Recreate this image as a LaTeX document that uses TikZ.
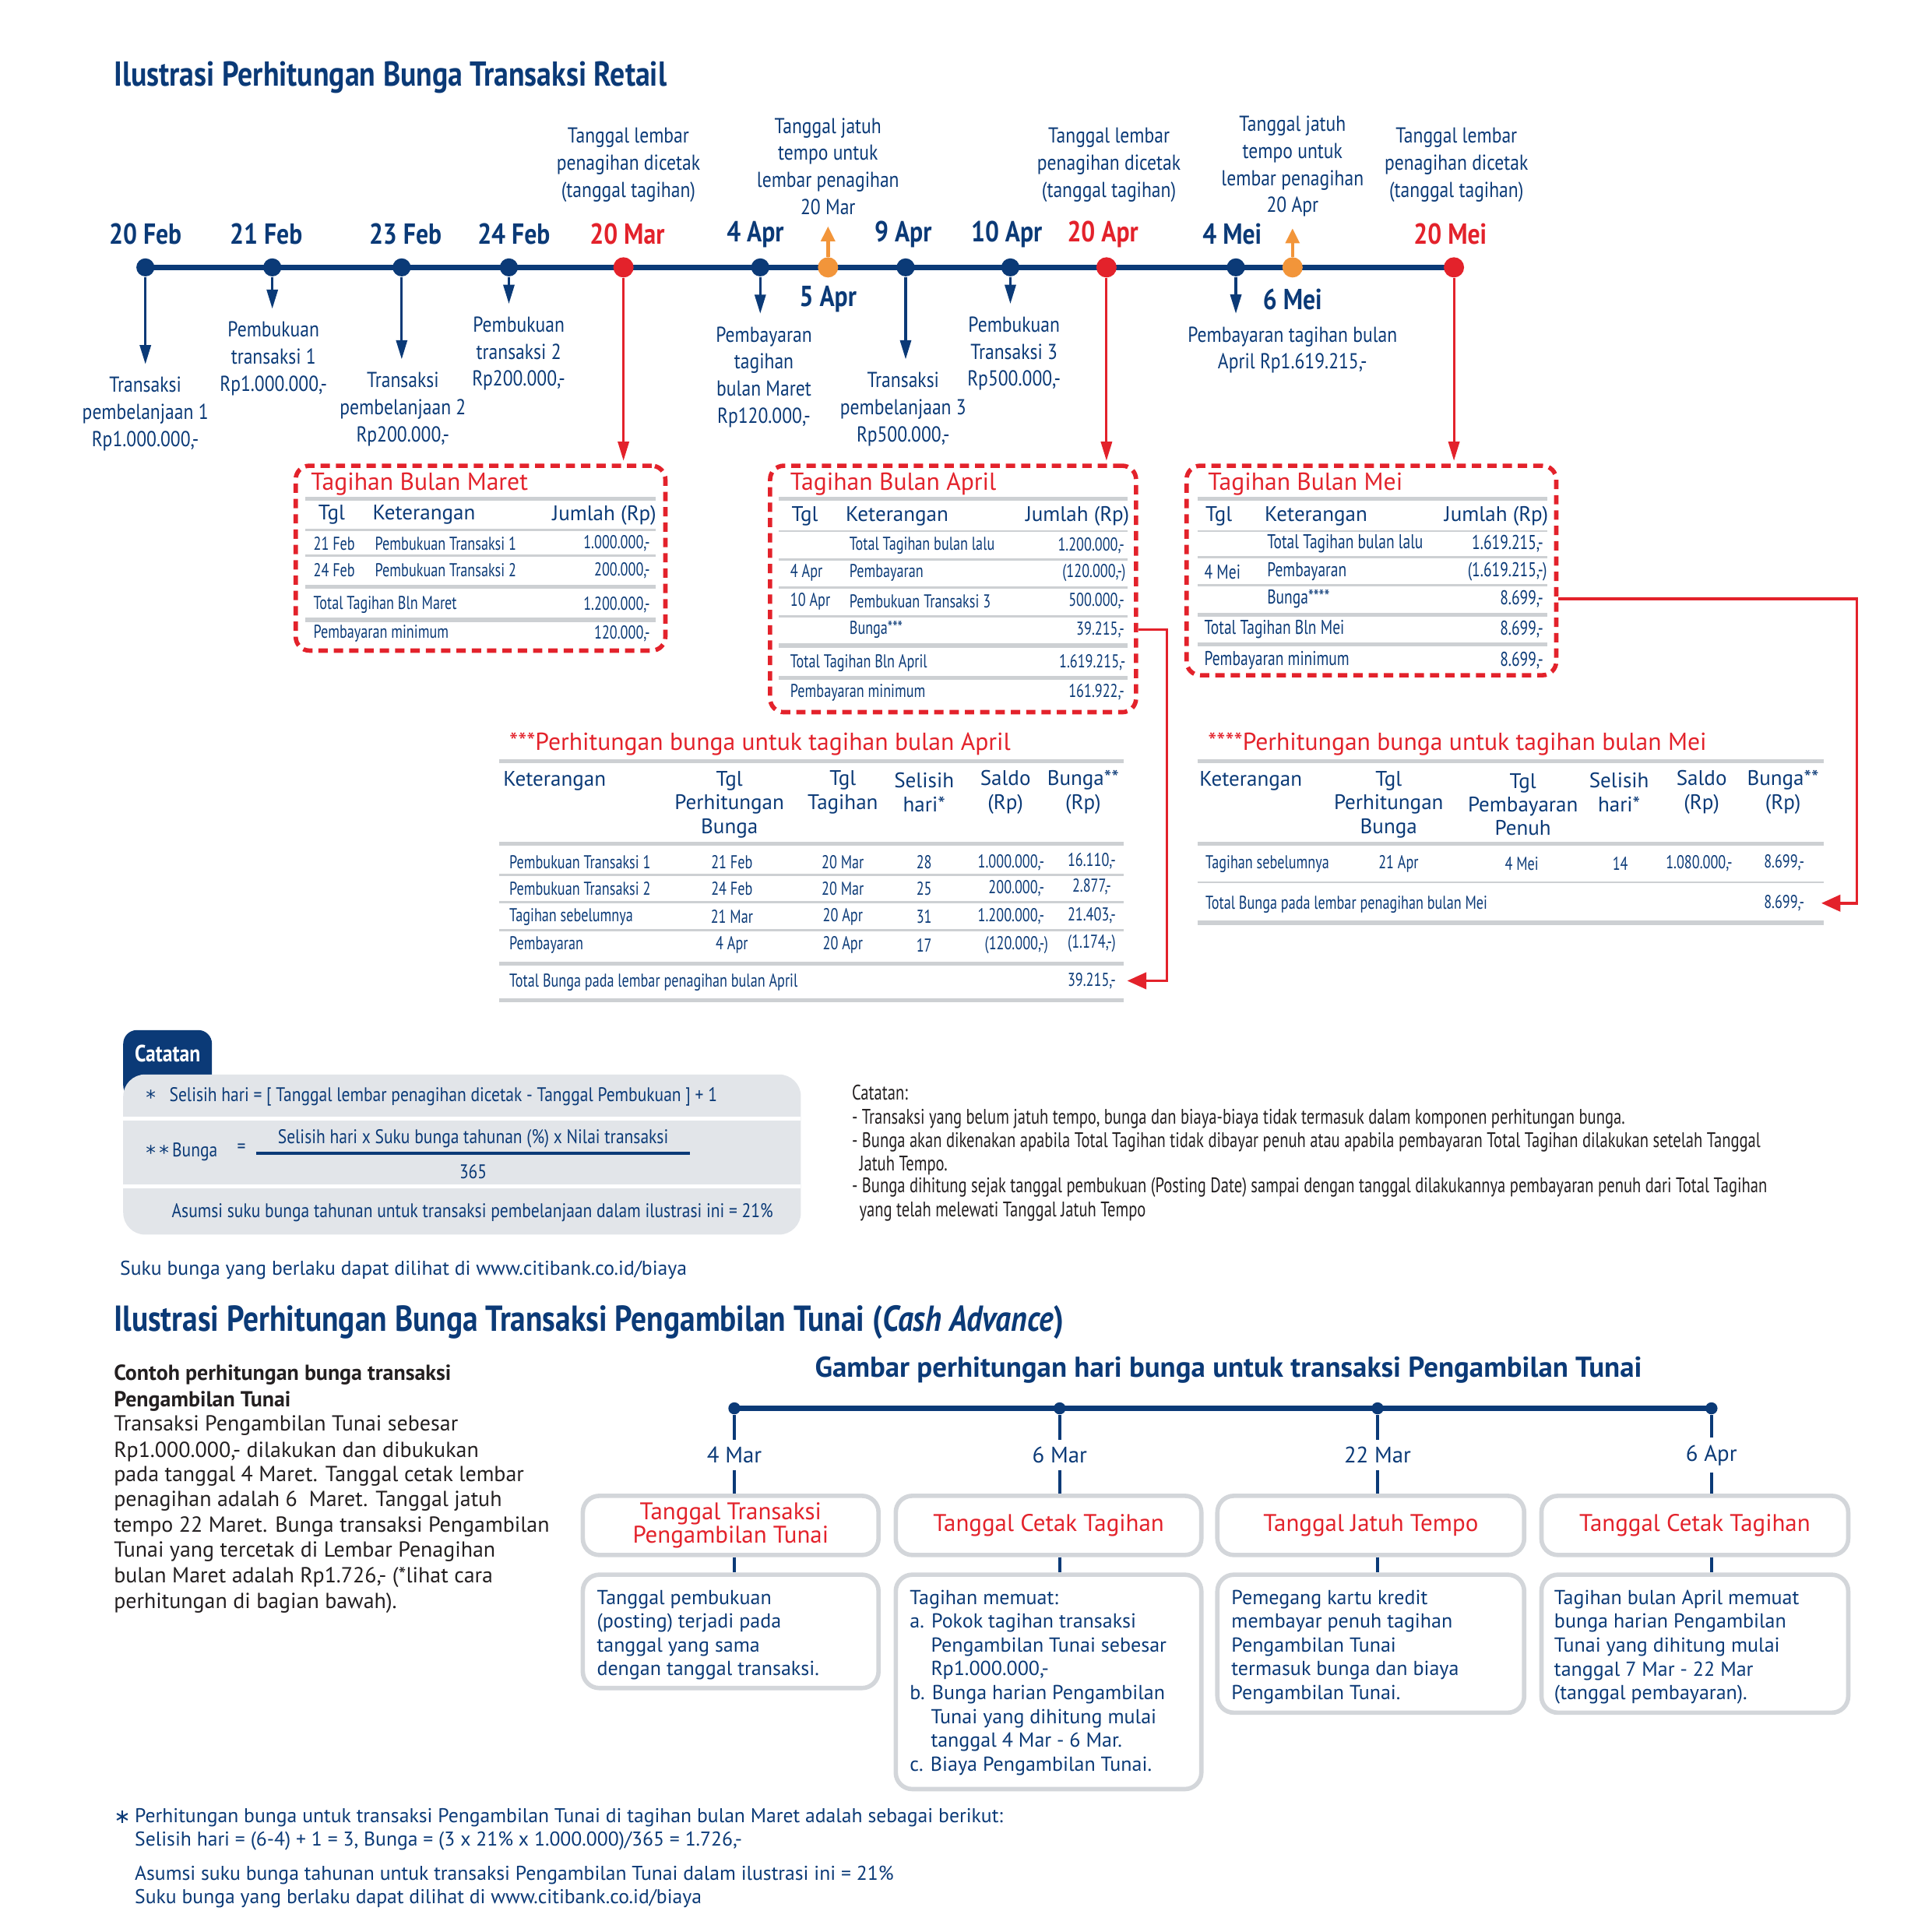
\documentclass[tikz,border=0pt]{standalone}
\usepackage{fontspec}
\setmainfont{PT Sans}
\newfontfamily\cf{PT Sans}[FakeStretch=0.85]
\newfontfamily\ccf{PT Sans}[FakeStretch=0.76]
\newfontfamily\dvs{DejaVu Sans}
\usetikzlibrary{arrows.meta,fit}
\definecolor{navy}{HTML}{0B3A77}
\definecolor{cred}{HTML}{E3222B}
\definecolor{corange}{HTML}{F2953A}
\definecolor{lgray}{HTML}{CDD0D3}
\definecolor{bgray}{HTML}{E2E5E9}
\definecolor{bxgray}{HTML}{D3D6DA}
\definecolor{ink}{HTML}{231F20}
\newcommand\myfs[2]{\fontsize{#1}{#2}\selectfont}
\newcommand\lowast{{\dvs\raisebox{-0.3ex}{*}}}
\begin{document}
\begin{tikzpicture}[x=0.15823mm,y=-0.15823mm,
 tl/.style={font=\cf\myfs{7.9}{9.9},text=navy,align=center,inner sep=0pt},
 dt/.style={font=\cf\bfseries\myfs{10.6}{12},text=navy,inner sep=0pt},
 dtr/.style={dt,text=cred},
 dotb/.style={circle,fill=navy,inner sep=0pt,minimum size=6.6pt},
 dotr/.style={circle,fill=cred,inner sep=0pt,minimum size=7.4pt},
 doto/.style={circle,fill=corange,inner sep=0pt,minimum size=7.4pt},
 barrow/.style={navy,line width=0.9pt,-{Triangle[length=7pt,width=4pt]},shorten >=4.5pt},
 rarrow/.style={cred,line width=0.9pt,-{Triangle[length=7pt,width=4pt]},shorten >=1pt},
 oarrow/.style={corange,line width=1.3pt,-{Triangle[length=5.5pt,width=5pt]},shorten >=4pt},
 rline/.style={cred,line width=1.1pt,-{Triangle[length=7pt,width=6pt]}},
 dbox/.style={draw=cred,line width=1.6pt,dash pattern=on 3.4pt off 2.2pt,rounded corners=5pt,inner sep=0pt},
 btit/.style={font=\myfs{9}{10},text=cred,inner sep=0pt,anchor=west},
 bh/.style={font=\myfs{7.7}{8.6},text=navy,inner sep=0pt},
 br/.style={font=\ccf\myfs{6.8}{8},text=navy,inner sep=0pt},
 brm/.style={font=\ccf\myfs{7.3}{8},text=navy,inner sep=0pt},
 gln/.style={lgray,line width=0.8pt},
 glk/.style={lgray,line width=1.5pt},
 ttl/.style={font=\cf\bfseries\myfs{12.65}{15},text=navy,inner sep=0pt,anchor=west},
 ct/.style={font=\cf\myfs{7.2}{9},text=navy,inner sep=0pt},
 nt/.style={font=\ccf\myfs{7.7}{9},text=ink,inner sep=0pt,anchor=west},
 cp/.style={font=\myfs{7.95}{9.2},text=ink,inner sep=0pt,anchor=west},
 cdot/.style={circle,fill=navy,inner sep=0pt,minimum size=4.4pt},
 cstub/.style={navy,line width=1.2pt},
 cdl/.style={font=\myfs{8.2}{10},text=navy,inner sep=2.4pt},
 cbx/.style={draw=bxgray,line width=1.6pt,rounded corners=6pt,fill=white,inner sep=0pt},
 cht/.style={font=\myfs{8.8}{8.6},text=cred,align=center,inner sep=0pt},
 cbt/.style={font=\myfs{7.4}{8.7},text=navy,align=left,inner sep=0pt,anchor=north west},
 bn/.style={font=\myfs{7.3}{8.6},text=navy,inner sep=0pt,anchor=west}
]
\useasboundingbox (0,0) rectangle (1568,1568);

% ---------- Title ----------
\node[ttl] (title1) at (92,63) {Ilustrasi Perhitungan Bunga Transaksi Retail};

% ---------- Timeline ----------
\draw[navy,line width=1.8pt] (118,217) -- (1180,217);
\node[dotb] (d1) at (118,217) {};
\node[dotb] (d2) at (221,217) {};
\node[dotb] (d3) at (326,217) {};
\node[dotb] (d4) at (413,217) {};
\node[dotr] (r1) at (506,217) {};
\node[dotb] (d5) at (617,217) {};
\node[doto] (o1) at (672,217) {};
\node[dotb] (d6) at (735,217) {};
\node[dotb] (d7) at (820,217) {};
\node[dotr] (r2) at (898,217) {};
\node[dotb] (d8) at (1003,217) {};
\node[doto] (o2) at (1049,217) {};
\node[dotr] (r3) at (1180,217) {};

% date labels
\node[dt] (t1) at (118,190) {20 Feb};
\node[dt] (t2) at (216,190) {21 Feb};
\node[dt] (t3) at (329,190) {23 Feb};
\node[dt] (t4) at (417,190) {24 Feb};
\node[dtr] (t5) at (509,190) {20 Mar};
\node[dt] (t6) at (613,190) {4 Apr};
\node[dt] (t7) at (733,190) {9 Apr};
\node[dt] (t8) at (817,190) {10 Apr};
\node[dtr] (t9) at (895,190) {20 Apr};
\node[dt] (t10) at (1000,190) {4 Mei};
\node[dtr] (t11) at (1177,190) {20 Mei};
\node[dt] (t12) at (672,243) {5 Apr};
\node[dt] (t13) at (1049,243) {6 Mei};

% labels above
\node[tl] (up1) at (510,134) {Tanggal lembar\\penagihan dicetak\\(tanggal tagihan)};
\node[tl] (up2) at (672,135) {Tanggal jatuh\\tempo untuk\\lembar penagihan\\20 Mar};
\node[tl] (up3) at (900,134) {Tanggal lembar\\penagihan dicetak\\(tanggal tagihan)};
\node[tl] (up4) at (1049,135) {Tanggal jatuh\\tempo untuk\\lembar penagihan\\20 Apr};
\node[tl] (up5) at (1182,134) {Tanggal lembar\\penagihan dicetak\\(tanggal tagihan)};
\draw[oarrow] (o1) -- (o1 |- up2.south);
\draw[oarrow] (o2) -- (o2 |- up4.south);

% labels below
\node[tl] (l1) at (118,336) {Transaksi\\pembelanjaan 1\\Rp1.000.000,-};
\node[tl] (l2) at (222,291) {Pembukuan\\transaksi 1\\Rp1.000.000,-};
\node[tl] (l3) at (327,332) {Transaksi\\pembelanjaan 2\\Rp200.000,-};
\node[tl] (l4) at (421,287) {Pembukuan\\transaksi 2\\Rp200.000,-};
\node[tl] (l5) at (620,306) {Pembayaran\\tagihan\\bulan Maret\\Rp120.000,-};
\node[tl] (l6) at (733,332) {Transaksi\\pembelanjaan 3\\Rp500.000,-};
\node[tl] (l7) at (823,287) {Pembukuan\\Transaksi 3\\Rp500.000,-};
\node[tl] (l8) at (1049,284) {Pembayaran tagihan bulan\\April Rp1.619.215,-};
\draw[barrow] (d1) -- (d1 |- l1.north);
\draw[barrow] (d2) -- (d2 |- l2.north);
\draw[barrow] (d3) -- (d3 |- l3.north);
\draw[barrow] (d4) -- (d4 |- l4.north);
\draw[barrow] (d5) -- (d5 |- l5.north);
\draw[barrow] (d6) -- (d6 |- l6.north);
\draw[barrow] (d7) -- (d7 |- l7.north);
\draw[barrow] (d8) -- (d8 |- l8.north);

% ---------- Dashed boxes ----------
\node[dbox,fit={(240,378) (540,528)}] (boxM) {};
\node[dbox,fit={(625,378) (922,578)}] (boxA) {};
\node[dbox,fit={(963,378) (1263,548)}] (boxMe) {};
\draw[rarrow] (r1) -- (r1 |- boxM.north);
\draw[rarrow] (r2) -- (r2 |- boxA.north);
\draw[rarrow] (r3) -- (r3 |- boxMe.north);

% Maret
\node[btit] (tM) at (252,393) {Tagihan Bulan Maret};
\draw[glk] (248,405) -- (532,405);
\node[bh,anchor=west] at (258,418) {Tgl};
\node[bh,anchor=west] at (302,418) {Keterangan};
\node[bh,anchor=east] at (533,418) {Jumlah (Rp)};
\draw[gln] (248,430) -- (532,430);
\node[br,anchor=west] at (254,441) {21 Feb};
\node[br,anchor=west] at (304,441) {Pembukuan Transaksi 1};
\node[br,anchor=east] at (528,441) {1.000.000,-};
\draw[gln] (248,451) -- (532,451);
\node[br,anchor=west] at (254,463) {24 Feb};
\node[br,anchor=west] at (304,463) {Pembukuan Transaksi 2};
\node[br,anchor=east] at (528,463) {200.000,-};
\draw[glk] (248,476) -- (532,476);
\node[br,anchor=west] at (254,491) {Total Tagihan Bln Maret};
\node[br,anchor=east] at (528,491) {1.200.000,-};
\draw[glk] (248,503) -- (532,503);
\node[br,anchor=west] at (254,514) {Pembayaran minimum};
\node[br,anchor=east] at (528,514) {120.000,-};

% April
\node[btit] (tA) at (641,393) {Tagihan Bulan April};
\draw[glk] (632,405) -- (915,405);
\node[bh,anchor=west] at (642,419) {Tgl};
\node[bh,anchor=west] at (686,419) {Keterangan};
\node[bh,anchor=east] at (917,419) {Jumlah (Rp)};
\draw[gln] (632,431) -- (915,431);
\node[br,anchor=west] at (689,443) {Total Tagihan bulan lalu};
\node[br,anchor=east] at (913,443) {1.200.000,-};
\draw[gln] (632,454) -- (915,454);
\node[br,anchor=west] at (641,465) {4 Apr};
\node[br,anchor=west] at (689,465) {Pembayaran};
\node[br,anchor=east] at (914,465) {(120.000,-)};
\draw[gln] (632,477) -- (915,477);
\node[br,anchor=west] at (641,488) {10 Apr};
\node[br,anchor=west] at (689,488) {Pembukuan Transaksi 3};
\node[br,anchor=east] at (913,488) {500.000,-};
\draw[gln] (632,500) -- (915,500);
\node[br,anchor=west] at (689,511) {Bunga***};
\node[br,anchor=east] (vBA) at (913,511) {39.215,-};
\draw[glk] (632,524) -- (915,524);
\node[br,anchor=west] at (641,538) {Total Tagihan Bln April};
\node[br,anchor=east] at (914,538) {1.619.215,-};
\draw[glk] (632,550) -- (915,550);
\node[br,anchor=west] at (641,562) {Pembayaran minimum};
\node[br,anchor=east] at (913,562) {161.922,-};

% Mei
\node[btit] (tMe) at (980,393) {Tagihan Bulan Mei};
\draw[glk] (972,405) -- (1256,405);
\node[bh,anchor=west] at (978,419) {Tgl};
\node[bh,anchor=west] at (1026,419) {Keterangan};
\node[bh,anchor=east] at (1257,419) {Jumlah (Rp)};
\draw[gln] (972,431) -- (1256,431);
\node[brm,anchor=west] at (1028,441) {Total Tagihan bulan lalu};
\node[brm,anchor=east] at (1253,441) {1.619.215,-};
\draw[gln] (972,452) -- (1256,452);
\node[brm,anchor=west] at (977,464) {4 Mei};
\node[brm,anchor=west] at (1028,464) {Pembayaran};
\node[brm,anchor=east] at (1256,464) {(1.619.215,-)};
\draw[gln] (972,475) -- (1256,475);
\node[brm,anchor=west] at (1028,486) {Bunga****};
\node[brm,anchor=east] (vBMe) at (1253,486) {8.699,-};
\draw[glk] (972,499) -- (1256,499);
\node[brm,anchor=west] at (977,511) {Total Tagihan Bln Mei};
\node[brm,anchor=east] at (1253,511) {8.699,-};
\draw[glk] (972,523) -- (1256,523);
\node[brm,anchor=west] at (977,536) {Pembayaran minimum};
\node[brm,anchor=east] at (1253,536) {8.699,-};

% ---------- Calc table April ----------
\node[btit] at (413,604) {***Perhitungan bunga untuk tagihan bulan April};
\draw[glk] (405,618) -- (912,618);
\node[bh,anchor=west] at (408,634) {Keterangan};
\node[bh,align=center] at (592,653) {Tgl\\Perhitungan\\Bunga};
\node[bh,align=center] at (684,643) {Tgl\\Tagihan};
\node[bh,align=center] at (750,643) {Selisih\\hari*};
\node[bh,align=center] at (816,643) {Saldo\\(Rp)};
\node[bh,align=center] at (879,643) {Bunga**\\(Rp)};
\draw[glk] (405,685) -- (912,685);
\node[br,anchor=west] at (413,700) {Pembukuan Transaksi 1};
\node[br] at (594,700) {21 Feb};
\node[br] at (684,700) {20 Mar};
\node[br] at (750,700) {28};
\node[br,anchor=east] at (848,700) {1.000.000,-};
\node[br] at (886,699) {16.110,-};
\draw[gln] (405,710) -- (912,710);
\node[br,anchor=west] at (413,721) {Pembukuan Transaksi 2};
\node[br] at (594,721) {24 Feb};
\node[br] at (684,721) {20 Mar};
\node[br] at (750,721) {25};
\node[br,anchor=east] at (848,721) {200.000,-};
\node[br] at (886,720) {2.877,-};
\draw[gln] (405,732) -- (912,732);
\node[br,anchor=west] at (413,744) {Tagihan sebelumnya};
\node[br] at (594,744) {21 Mar};
\node[br] at (684,744) {20 Apr};
\node[br] at (750,744) {31};
\node[br,anchor=east] at (848,744) {1.200.000,-};
\node[br] at (886,743) {21.403,-};
\draw[gln] (405,755) -- (912,755);
\node[br,anchor=west] at (413,767) {Pembayaran};
\node[br] at (594,767) {4 Apr};
\node[br] at (684,767) {20 Apr};
\node[br] at (750,767) {17};
\node[br,anchor=east] at (851,767) {(120.000,-)};
\node[br] at (886,766) {(1.174,-)};
\draw[glk] (405,782) -- (912,782);
\node[br,anchor=west] at (413,797) {Total Bunga pada lembar penagihan bulan April};
\node[br] (vTA) at (886,796) {39.215,-};
\draw[glk] (405,812) -- (912,812);

% ---------- Calc table Mei ----------
\node[btit] at (980,604) {****Perhitungan bunga untuk tagihan bulan Mei};
\draw[glk] (972,618) -- (1480,618);
\node[bh,anchor=west] at (973,634) {Keterangan};
\node[bh,align=center] at (1127,653) {Tgl\\Perhitungan\\Bunga};
\node[bh,align=center] at (1236,653) {Tgl\\Pembayaran\\Penuh};
\node[bh,align=center] at (1314,643) {Selisih\\hari*};
\node[bh,align=center] at (1381,643) {Saldo\\(Rp)};
\node[bh,align=center] at (1447,643) {Bunga**\\(Rp)};
\draw[glk] (972,685) -- (1480,685);
\node[br,anchor=west] at (978,701) {Tagihan sebelumnya};
\node[br] at (1135,701) {21 Apr};
\node[br] at (1235,701) {4 Mei};
\node[br] at (1315,701) {14};
\node[br] at (1379,701) {1.080.000,-};
\node[br] at (1448,700) {8.699,-};
\draw[gln] (972,716) -- (1480,716);
\node[br,anchor=west] at (978,734) {Total Bunga pada lembar penagihan bulan Mei};
\node[br] (vTMe) at (1448,733) {8.699,-};
\draw[glk] (972,749) -- (1480,749);

% connectors
\coordinate (kA) at (947,796);
\coordinate (kM) at (1507,733);
\draw[rline] (boxA.east |- vBA) -| (kA) -- ([xshift=4pt]vTA.east);
\draw[rline] (boxMe.east |- vBMe) -| (kM) -- ([xshift=6pt]vTMe.east);

% ---------- Catatan ----------
\node[fill=navy,rounded corners=5pt,inner sep=0pt,fit={(100,836) (172,892)}] (tab) {};
\node[font=\cf\bfseries\myfs{8.6}{10},text=white,inner sep=0pt] at (136,855) {Catatan};
\node[fill=bgray,rounded corners=8pt,inner sep=0pt,fit={(100,872) (650,1002)}] (cbox) {};
\draw[white,line width=1.3pt] (100,908) -- (650,908);
\draw[white,line width=1.3pt] (100,963) -- (650,963);
\node[ct,anchor=west] at (118,890) {\lowast\hspace{5pt}Selisih hari = [ Tanggal lembar penagihan dicetak - Tanggal Pembukuan ] + 1};
\node[ct,anchor=west] at (118,935) {\lowast\,\lowast\,Bunga};
\node[ct] at (196,932) {=};
\node[ct] (num) at (384,924) {Selisih hari x Suku bunga tahunan (\%) x Nilai transaksi};
\draw[navy,line width=1.3pt] (208,936) -- (560,936);
\node[ct] (den) at (384,951) {365};
\node[ct,anchor=west] at (139,984) {Asumsi suku bunga tahunan untuk transaksi pembelanjaan dalam ilustrasi ini = 21\%};
\node[font=\myfs{7.3}{9},text=navy,inner sep=0pt,anchor=west] at (97,1031) {Suku bunga yang berlaku dapat dilihat di www.citibank.co.id/biaya};

\node[nt] at (691,887) {Catatan:};
\node[nt] at (691,908) {- Transaksi yang belum jatuh tempo, bunga dan biaya-biaya tidak termasuk dalam komponen perhitungan bunga.};
\node[nt] at (691,927) {- Bunga akan dikenakan apabila Total Tagihan tidak dibayar penuh atau apabila pembayaran Total Tagihan dilakukan setelah Tanggal};
\node[nt] at (697,946) {Jatuh Tempo.};
\node[nt] at (691,964) {- Bunga dihitung sejak tanggal pembukuan (Posting Date) sampai dengan tanggal dilakukannya pembayaran penuh dari Total Tagihan};
\node[nt] at (697,983) {yang telah melewati Tanggal Jatuh Tempo};

% ---------- Cash advance ----------
\node[ttl,font=\cf\bfseries\myfs{13.2}{15}] (title2) at (92,1073) {Ilustrasi Perhitungan Bunga Transaksi Pengambilan Tunai (\textit{Cash Advance})};
\node[cp,font=\bfseries\myfs{7.95}{9.2}] at (92,1116) {Contoh perhitungan bunga transaksi};
\node[cp,font=\bfseries\myfs{7.95}{9.2}] at (92,1137) {Pengambilan Tunai};
\node[cp] at (92,1157) {Transaksi Pengambilan Tunai sebesar};
\node[cp] at (92,1178) {Rp1.000.000,- dilakukan dan dibukukan};
\node[cp] at (92,1198) {pada tanggal 4 Maret. Tanggal cetak lembar};
\node[cp] at (92,1218) {penagihan adalah 6\ \ Maret. Tanggal jatuh};
\node[cp] at (92,1239) {tempo 22 Maret. Bunga transaksi Pengambilan};
\node[cp] at (92,1259) {Tunai yang tercetak di Lembar Penagihan};
\node[cp] at (92,1280) {bulan Maret adalah Rp1.726,- (*lihat cara};
\node[cp] at (92,1301) {perhitungan di bagian bawah).};

\node[font=\bfseries\myfs{10.5}{12},text=navy,inner sep=0pt] (sub) at (997,1112) {Gambar perhitungan hari bunga untuk transaksi Pengambilan Tunai};
\draw[navy,line width=2pt] (596,1143) -- (1389,1143);
\node[cdot] (cp1) at (596,1143) {};
\node[cdot] (cp2) at (860,1143) {};
\node[cdot] (cp3) at (1118,1143) {};
\node[cdot] (cp4) at (1389,1143) {};
\node[cdl] (cd1) at (596,1181) {4 Mar};
\node[cdl] (cd2) at (860,1181) {6 Mar};
\node[cdl] (cd3) at (1118,1181) {22 Mar};
\node[cdl] (cd4) at (1389,1181) {6 Apr};
\node[cbx,fit={(473,1214) (713,1262)}] (ch1) {};
\node[cbx,fit={(727,1214) (975,1262)}] (ch2) {};
\node[cbx,fit={(988,1214) (1237,1262)}] (ch3) {};
\node[cbx,fit={(1251,1214) (1500,1262)}] (ch4) {};
\node[cbx,fit={(473,1278) (713,1370)}] (cb1) {};
\node[cbx,fit={(727,1278) (975,1452)}] (cb2) {};
\node[cbx,fit={(988,1278) (1237,1390)}] (cb3) {};
\node[cbx,fit={(1251,1278) (1500,1390)}] (cb4) {};
\foreach \i in {1,2,3,4}{
  \draw[cstub] (cp\i) -- (cd\i);
  \draw[cstub] (cd\i) -- (cd\i |- ch\i.north);
  \draw[cstub] (cd\i |- ch\i.south) -- (cd\i |- cb\i.north);
}
\node[cht] at (ch1.center) {Tanggal Transaksi\\Pengambilan Tunai};
\node[cht] at (ch2.center) {Tanggal Cetak Tagihan};
\node[cht] at (ch3.center) {Tanggal Jatuh Tempo};
\node[cht] at (ch4.center) {Tanggal Cetak Tagihan};
\node[cbt] at (484,1290) {Tanggal pembukuan\\(posting) terjadi pada\\tanggal yang sama\\dengan tanggal transaksi.};
\node[cbt] at (738,1290) {Tagihan memuat:\\a. Pokok tagihan transaksi\\\hspace*{7.7pt}Pengambilan Tunai sebesar\\\hspace*{7.7pt}Rp1.000.000,-\\b. Bunga harian Pengambilan\\\hspace*{7.7pt}Tunai yang dihitung mulai\\\hspace*{7.7pt}tanggal 4 Mar - 6 Mar.\\c. Biaya Pengambilan Tunai.};
\node[cbt] at (999,1290) {Pemegang kartu kredit\\membayar penuh tagihan\\Pengambilan Tunai\\termasuk bunga dan biaya\\Pengambilan Tunai.};
\node[cbt] at (1261,1290) {Tagihan bulan April memuat\\bunga harian Pengambilan\\Tunai yang dihitung mulai\\tanggal 7 Mar - 22 Mar\\(tanggal pembayaran).};

% bottom notes
\node[bn] at (92,1475) {{\dvs ∗}};
\node[bn] at (109,1475) {Perhitungan bunga untuk transaksi Pengambilan Tunai di tagihan bulan Maret adalah sebagai berikut:};
\node[bn] at (109,1494) {Selisih hari = (6-4) + 1 = 3, Bunga = (3 x 21\% x 1.000.000)/365 = 1.726,-};
\node[bn] at (109,1522) {Asumsi suku bunga tahunan untuk transaksi Pengambilan Tunai dalam ilustrasi ini = 21\%};
\node[bn] at (109,1541) {Suku bunga yang berlaku dapat dilihat di www.citibank.co.id/biaya};
\end{tikzpicture}
\end{document}
